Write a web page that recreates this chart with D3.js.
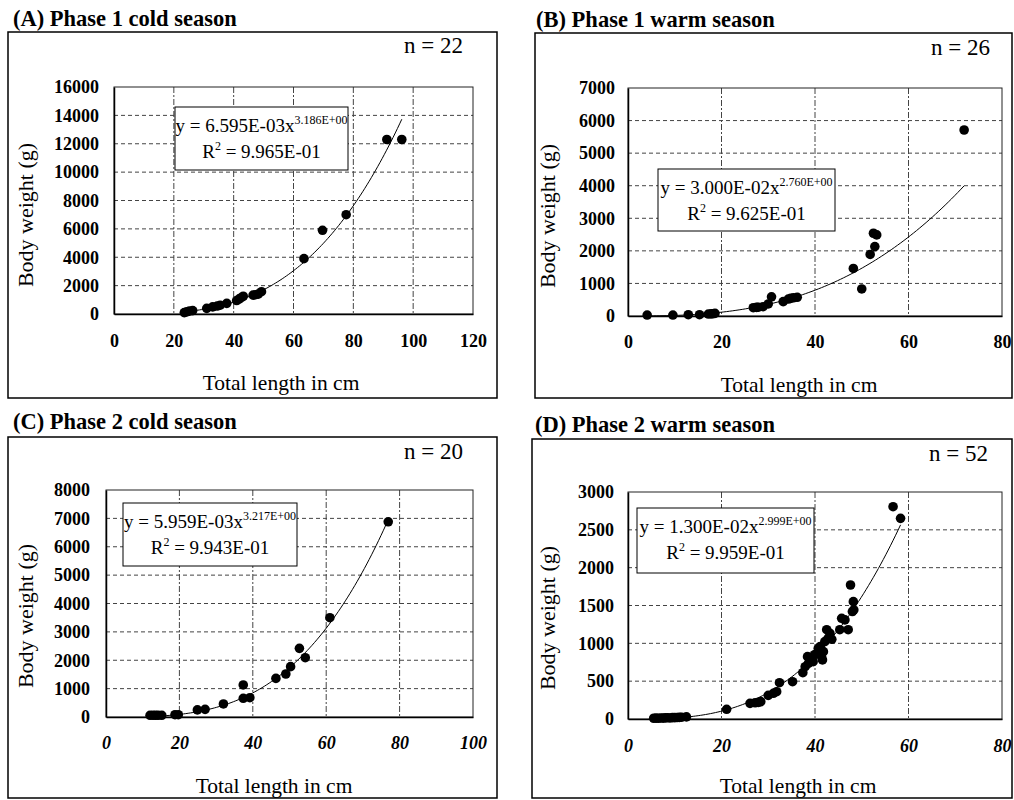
<!DOCTYPE html>
<html>
<head>
<meta charset="utf-8">
<script src="https://cdn.jsdelivr.net/npm/d3@7"></script>
<style>
  body { margin: 0; background: #fff; }
  svg { display: block; }
  svg text { font-family: "Liberation Serif", "Times New Roman", serif; }
</style>
</head>
<body>
<svg id="chart" width="1014" height="800"></svg>
<script>
// values (total length cm, body weight g)
const lenA = [23.5,24.3,25.2,26.3,31,33,34.5,35.5,37.7,41,41.8,42.5,43.2,46.5,47.3,48.2,49.3,63.5,69.7,77.6,91.2,96.2];
const wtA  = [100,150,200,240,400,500,560,620,750,950,1050,1150,1250,1330,1360,1400,1570,3900,5900,7000,12300,12300];

const lenB = [4.1,9.6,12.9,15.3,17.2,17.8,18.2,18.6,26.8,27.5,27.9,28.9,30,30.7,33.2,34.3,34.8,35.4,36.2,48.2,50,51.8,52.8,52.5,53.2,71.9];
const wtB  = [30,30,40,40,60,65,70,80,255,265,270,285,370,590,440,520,540,560,575,1460,830,1890,2130,2540,2490,5710];

const lenC = [12,12.8,13.5,14.2,15.2,18.8,19.7,24.9,27,32,37.4,37.4,39.2,46.3,49,50.3,52.7,54.3,61,76.9];
const wtC  = [60,60,60,60,60,80,80,250,270,460,660,1130,680,1360,1515,1775,2420,2090,3500,6880];

const lenD = [5.5,6,6.5,7,7.5,8,8.5,9,9.5,10,10.5,11,11.5,12.5,21.1,26.1,27.2,27.9,28.4,30,31.1,31.8,32.4,35.2,
  37.4,37.9,38.4,38.6,39.3,39.6,39.9,40.4,40.7,41.1,41.4,41.6,41.8,42.1,42.5,42.8,43.2,43.6,45.3,45.7,46.4,47.1,47.6,48.0,48.2,48.3,56.7,58.3];
const wtD  = [10,12,10,14,12,15,16,14,18,18,20,22,24,28,128,207,215,220,229,312,340,361,480,493,
  612,691,824,736,802,758,850,868,934,956,823,780,890,1022,1180,1066,1131,1053,1180,1331,1310,1180,1771,1420,1551,1441,2806,2652];

// power fits y = a * x^b as printed on each panel
const fitA = [6.595e-3, 3.186];
const fitB = [3.000e-2, 2.760];
const fitC = [5.959e-3, 3.217];
const fitD = [1.300e-2, 2.999];

const eqA = ["6.595E-03", "3.186E+00", "9.965E-01"];
const eqB = ["3.000E-02", "2.760E+00", "9.625E-01"];
const eqC = ["5.959E-03", "3.217E+00", "9.943E-01"];
const eqD = ["1.300E-02", "2.999E+00", "9.959E-01"];

const titles = ["(A) Phase 1 cold season", "(B) Phase 1 warm season", "(C) Phase 2 cold season", "(D) Phase 2 warm season"];
const nLabels = ["n = 22", "n = 26", "n = 20", "n = 52"];

const xTicksA = [0,20,40,60,80,100,120];
const yTicksA = [0,2000,4000,6000,8000,10000,12000,14000,16000];
const xTicksB = [0,20,40,60,80];
const yTicksB = [0,1000,2000,3000,4000,5000,6000,7000];
const xTicksC = [0,20,40,60,80,100];
const yTicksC = [0,1000,2000,3000,4000,5000,6000,7000,8000];
const xTicksD = [0,20,40,60,80];
const yTicksD = [0,500,1000,1500,2000,2500,3000];

// layout of each panel on the page
const panels = [
  {len: lenA, wt: wtA, fit: fitA, eq: eqA, xt: xTicksA, yt: yTicksA, italic: false,
   box: [8, 32, 489, 366], plot: [114, 473, 87, 314], title: [13, 26], n: [463, 53],
   eqBox: [175, 107, 173, 63], ylab: [33, 215], xlab: [281, 390], xtb: 347, ypad: 15},
  {len: lenB, wt: wtB, fit: fitB, eq: eqB, xt: xTicksB, yt: yTicksB, italic: false,
   box: [535, 33, 477, 365], plot: [628, 1002, 88, 316], title: [536, 27], n: [990, 55],
   eqBox: [658, 169, 177, 62], ylab: [555, 216], xlab: [799, 392], xtb: 348, ypad: 13},
  {len: lenC, wt: wtC, fit: fitC, eq: eqC, xt: xTicksC, yt: yTicksC, italic: true,
   box: [8, 437, 489, 361], plot: [106, 473, 490, 717], title: [13, 429], n: [463, 459],
   eqBox: [123, 503, 174, 63], ylab: [33, 616], xlab: [274, 793], xtb: 749, ypad: 16},
  {len: lenD, wt: wtD, fit: fitD, eq: eqD, xt: xTicksD, yt: yTicksD, italic: true,
   box: [532, 439, 480, 359], plot: [628, 1002, 492, 719], title: [535, 432], n: [988, 461],
   eqBox: [637, 508, 177, 65], ylab: [555, 618], xlab: [798, 793], xtb: 752, ypad: 14}
];

const serif = '"Liberation Serif", "Times New Roman", serif';
const svg = d3.select('#chart');

panels.forEach((p, i) => {
  const [l, r, t, b] = p.plot;
  const x = d3.scaleLinear().domain(d3.extent(p.xt)).range([l, r]);
  const y = d3.scaleLinear().domain(d3.extent(p.yt)).range([b, t]);
  const g = svg.append('g').attr('font-family', serif);

  // outer frame + title
  g.append('rect')
    .attr('x', p.box[0]).attr('y', p.box[1])
    .attr('width', p.box[2]).attr('height', p.box[3])
    .attr('fill', 'none').attr('stroke', '#000').attr('stroke-width', 1.5);

  g.append('text')
    .attr('x', p.title[0]).attr('y', p.title[1])
    .attr('font-size', 22.5).attr('font-weight', 'bold')
    .text(titles[i]);

  g.append('text')
    .attr('x', p.n[0]).attr('y', p.n[1])
    .attr('text-anchor', 'end').attr('font-size', 23)
    .text(nLabels[i]);

  // grid
  g.selectAll('.hgrid')
    .data(p.yt.slice(1, -1))
    .enter().append('line')
    .attr('x1', l).attr('x2', r)
    .attr('y1', d => y(d)).attr('y2', d => y(d))
    .attr('stroke', '#444').attr('stroke-dasharray', '4,3');

  g.selectAll('.vgrid')
    .data(p.xt.slice(1, -1))
    .enter().append('line')
    .attr('x1', d => x(d)).attr('x2', d => x(d))
    .attr('y1', t).attr('y2', b)
    .attr('stroke', '#444').attr('stroke-dasharray', '6,2,2,2');

  g.append('rect')
    .attr('x', l).attr('y', t)
    .attr('width', r - l).attr('height', b - t)
    .attr('fill', 'none').attr('stroke', '#222').attr('stroke-width', 1);

  // axes
  const fs = 18;
  const xAxis = g.append('g')
    .attr('transform', `translate(0,${b})`)
    .call(d3.axisBottom(x).tickValues(p.xt).tickFormat(d3.format('d'))
      .tickSize(0).tickPadding(p.xtb - b - 0.71 * fs));
  const yAxis = g.append('g')
    .attr('transform', `translate(${l},0)`)
    .call(d3.axisLeft(y).tickValues(p.yt).tickFormat(d3.format('d'))
      .tickSize(0).tickPadding(p.ypad));

  [xAxis, yAxis].forEach(ax => {
    ax.attr('font-family', serif);
    ax.select('.domain').attr('stroke', '#000').attr('stroke-width', 1.5);
    ax.selectAll('text')
      .attr('font-size', fs).attr('font-weight', 'bold').attr('fill', '#000');
  });
  if (p.italic) xAxis.selectAll('text').attr('font-style', 'italic');

  g.append('text')
    .attr('transform', `translate(${p.ylab[0]},${p.ylab[1]}) rotate(-90)`)
    .attr('text-anchor', 'middle').attr('font-size', 22)
    .text('Body weight (g)');

  g.append('text')
    .attr('x', p.xlab[0]).attr('y', p.xlab[1])
    .attr('text-anchor', 'middle').attr('font-size', 21.5)
    .text('Total length in cm');

  // fitted power curve
  const [a, k] = p.fit;
  const [x0, x1] = d3.extent(p.len);
  const curve = d3.range(0, 101).map(j => {
    const xv = x0 + (x1 - x0) * j / 100;
    return [xv, a * Math.pow(xv, k)];
  });
  g.append('path')
    .datum(curve)
    .attr('d', d3.line().x(d => x(d[0])).y(d => y(d[1])))
    .attr('fill', 'none').attr('stroke', '#000').attr('stroke-width', 1);

  // points
  g.selectAll('.dot')
    .data(p.len.map((v, j) => [v, p.wt[j]]))
    .enter().append('circle')
    .attr('cx', d => x(d[0])).attr('cy', d => y(d[1]))
    .attr('r', 4.8).attr('fill', '#000');

  // equation box
  const [ex, ey, ew, eh] = p.eqBox;
  g.append('rect')
    .attr('x', ex).attr('y', ey).attr('width', ew).attr('height', eh)
    .attr('fill', '#fff').attr('stroke', '#000').attr('stroke-width', 1);

  const l1 = g.append('text')
    .attr('x', ex + ew / 2).attr('y', ey + 25)
    .attr('text-anchor', 'middle').attr('font-size', 19);
  l1.append('tspan').text(`y = ${p.eq[0]}x`);
  l1.append('tspan').attr('dy', -8).attr('font-size', 12).text(p.eq[1]);

  const l2 = g.append('text')
    .attr('x', ex + ew / 2).attr('y', ey + 51)
    .attr('text-anchor', 'middle').attr('font-size', 19);
  l2.append('tspan').text('R');
  l2.append('tspan').attr('dy', -8).attr('font-size', 12).text('2');
  l2.append('tspan').attr('dy', 8).text(` = ${p.eq[2]}`);
});
</script>
</body>
</html>
